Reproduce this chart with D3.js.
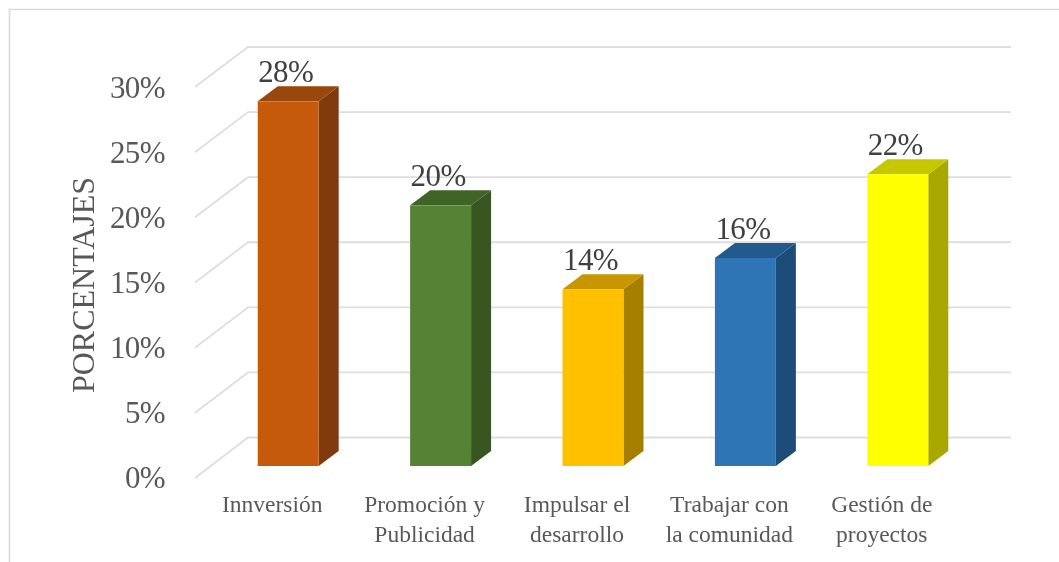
<!DOCTYPE html>
<html><head><meta charset="utf-8">
<script src="https://cdnjs.cloudflare.com/ajax/libs/d3/7.8.5/d3.min.js"></script>
<style>html,body{margin:0;padding:0;background:#fff}svg{display:block}text{font-family:"Liberation Serif",serif}</style>
</head><body><svg id="c" width="1059" height="562"></svg>
<script>
const categories = [["Innversión"],["Promoción y","Publicidad"],["Impulsar el","desarrollo"],["Trabajar con","la comunidad"],["Gestión de","proyectos"]];
const values = [28.05, 20.05, 13.6, 16, 22.45];
const valueLabels = ["28%","20%","14%","16%","22%"];
const frontColors = ["#c55a11","#548235","#ffc000","#2e75b6","#ffff00"];
const topColors = ["#9a4609","#3f6428","#c79600","#235a8e","#c7c700"];
const sideColors = ["#7f3a0b","#375623","#a67e00","#1f4e79","#a8a800"];
const ticks = [0,5,10,15,20,25,30];

const W = 1059, H = 562;
const svg = d3.select("#c");
const defs = svg.append("defs");
defs.append("filter").attr("id","soft").attr("x","-5%").attr("y","-5%").attr("width","110%").attr("height","110%")
  .append("feGaussianBlur").attr("stdDeviation",0.55);
const g = svg.append("g").attr("filter","url(#soft)");

const yBar = d3.scaleLinear().domain([0,30]).range([466,76]);
const yBack = d3.scaleLinear().domain([0,30]).range([437.5,47]);
const yFront = d3.scaleLinear().domain([0,30]).range([478,87]);
const yLabel = d3.scaleLinear().domain([0,30]).range([488,98]);
const x = d3.scaleBand().domain(d3.range(values.length)).range([212,974]).paddingInner(0.6).paddingOuter(0.3);
const depthX = 20, depthY = 15;
const xBack = 248, xLeft = 195, xRight = 1011;

// frame
g.append("path").attr("d",`M9.5,${H}V9.5H${W}`).attr("fill","none").attr("stroke","#d9d9d9").attr("stroke-width",1.6);

// gridlines
g.append("g").selectAll("path").data(ticks).join("path")
  .attr("d",d=>`M${xLeft},${yFront(d)}L${xBack},${yBack(d)}H${xRight}`)
  .attr("fill","none").attr("stroke","#dedede").attr("stroke-width",1.8);

// y tick labels
g.append("g").selectAll("text").data(ticks).join("text")
  .attr("x",165).attr("y",d=>yLabel(d)).attr("text-anchor","end")
  .attr("font-size",31).attr("letter-spacing",-0.6).attr("fill","#595959").text(d=>d+"%");

// axis title
g.append("text").attr("transform","translate(94,285) rotate(-90)").attr("text-anchor","middle")
  .attr("font-size",32).attr("fill","#595959").text("PORCENTAJES");

// bars
const bars = g.append("g").selectAll("g").data(values).join("g");
bars.append("path").attr("fill",(d,i)=>sideColors[i])
  .attr("d",(d,i)=>{const r=x(i)+x.bandwidth();return `M${r},${yBar(d)}l${depthX},${-depthY}V${yBar(0)-depthY}l${-depthX},${depthY}Z`;});
bars.append("path").attr("fill",(d,i)=>topColors[i])
  .attr("d",(d,i)=>{const l=x(i),w=x.bandwidth();return `M${l},${yBar(d)}l${depthX},${-depthY}h${w}l${-depthX},${depthY}Z`;});
bars.append("rect").attr("fill",(d,i)=>frontColors[i])
  .attr("x",(d,i)=>x(i)).attr("width",x.bandwidth()).attr("y",d=>yBar(d)).attr("height",d=>yBar(0)-yBar(d));

// value labels
g.append("g").selectAll("text").data(values).join("text")
  .attr("x",(d,i)=>x(i)+x.bandwidth()/2-2.5).attr("y",d=>yBar(d)-19)
  .attr("text-anchor","middle").attr("font-size",31).attr("letter-spacing",-0.6).attr("fill","#404040").text((d,i)=>valueLabels[i]);

// category labels
const cat = g.append("g").selectAll("text").data(categories).join("text")
  .attr("text-anchor","middle").attr("font-size",23.5).attr("fill","#595959")
  .attr("transform",(d,i)=>`translate(${x(i)+x.bandwidth()/2-16},0)`);
cat.selectAll("tspan").data(d=>d).join("tspan").attr("x",0)
  .attr("y",(d,i)=>512+i*29.5).text(d=>d);
</script></body></html>
